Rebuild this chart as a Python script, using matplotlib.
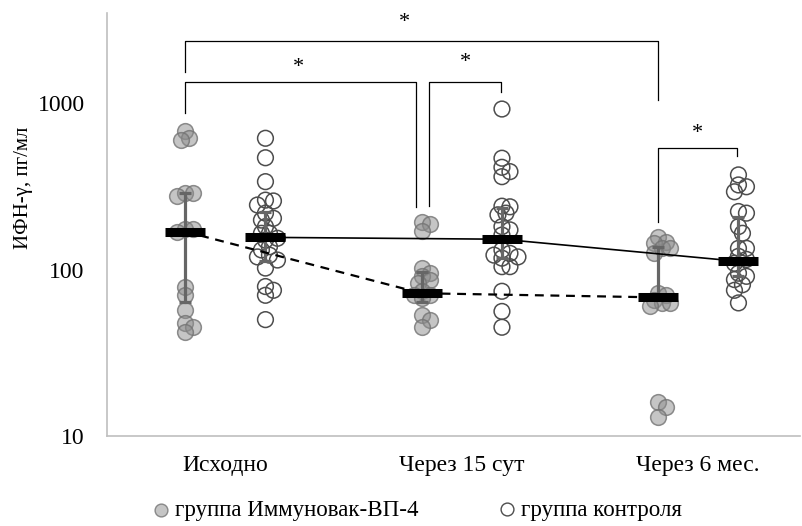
import numpy as np
import matplotlib
matplotlib.use('Agg')
import matplotlib.pyplot as plt

# Данные (пг/мл)
categories = ['Исходно', 'Через 15 сут', 'Через 6 мес.']

immuno_0 = [680, 620, 600, 290, 290, 275, 175, 175, 168, 78, 70, 57, 48, 45, 42]
immuno_1 = [192, 188, 170, 102, 95, 91, 86, 83, 74, 70, 70, 67, 53, 50, 45]
immuno_2 = [157, 147, 144, 134, 134, 125, 72, 70, 66, 63, 63, 60, 16, 15, 13]

control_0 = [614, 469, 337, 261, 258, 244, 218, 203, 198, 181, 165, 165, 154, 150,
             137, 131, 122, 119, 114, 102, 79, 75, 70, 50]
control_1 = [920, 466, 411, 387, 361, 240, 238, 218, 213, 181, 173, 161, 131, 125,
             122, 119, 117, 104, 104, 74, 56, 45]
control_2 = [370, 322, 314, 293, 223, 218, 181, 165, 134, 134, 120, 115, 109, 95,
             91, 87, 81, 75, 63]

immuno_median = [169, 72, 68]
control_median = [156, 152, 112]
immuno_err_low = [64, 64, 68]
immuno_err_high = [289, 97, 136]
control_err_low = [113, 117, 92]
control_err_high = [223, 234, 206]

# скобки значимости: x1, x2, верх, конец левой ножки, конец правой ножки, x звезды, y звезды
brackets = [
    (0.83, 2.831, 2355, 1535, 1042, 1.757, 3060),
    (0.83, 1.808, 1337, 871, 238, 1.31, 1644),
    (1.863, 2.167, 1337, 240, 1170, 2.015, 1762),
    (2.831, 3.165, 537, 194, 483, 2.998, 652),
]

plt.rcParams['font.family'] = ['Liberation Serif', 'DejaVu Serif']

fig = plt.figure(figsize=(8.02, 5.26), dpi=100)
ax = fig.add_axes([107 / 802, 90 / 526, 693 / 802, 423 / 526])
ax.set_yscale('log')
ax.set_ylim(10, 10 ** (1 + 423 / 166.5))
ax.set_xlim(0.5, 0.5 + 693 / 236.5)

x = np.arange(1, 4)
off = 0.17


def swarm(values, xc, diam=7.0, step=4.0):
    # простое распределение точек, круги частично перекрываются
    to_px = ax.transData
    px_per_x = to_px.transform((1, 10))[0] - to_px.transform((0, 10))[0]
    placed = []
    xs = []
    for v in values:
        py = to_px.transform((xc, v))[1]
        k = 0
        while True:
            cand = [0] if k == 0 else [k * step, -k * step]
            ok = None
            for c in cand:
                if all((c - px) ** 2 + (py - yy) ** 2 >= diam ** 2 for px, yy in placed):
                    ok = c
                    break
            if ok is not None:
                break
            k += 1
        placed.append((ok, py))
        xs.append(xc + ok / px_per_x)
    return xs


immuno = [immuno_0, immuno_1, immuno_2]
control = [control_0, control_1, control_2]

for i in range(3):
    xi = swarm(immuno[i], x[i] - off)
    ax.scatter(xi, immuno[i], s=128, facecolor=(0.55, 0.55, 0.55, 0.5),
               edgecolor=(0.45, 0.45, 0.45, 0.8), linewidth=1.1, zorder=2)
    xc = swarm(control[i], x[i] + off)
    ax.scatter(xc, control[i], s=128, facecolor='none',
               edgecolor='#4d4d4d', linewidth=1.1, zorder=2)

# разброс
im = np.array(immuno_median)
cm = np.array(control_median)
ax.errorbar(x - off, im, yerr=[im - np.array(immuno_err_low), np.array(immuno_err_high) - im],
            fmt='none', ecolor='#666666', elinewidth=2.3, capsize=4, capthick=2.3, zorder=3)
ax.errorbar(x + off, cm, yerr=[cm - np.array(control_err_low), np.array(control_err_high) - cm],
            fmt='none', ecolor='#666666', elinewidth=2.3, capsize=4, capthick=2.3, zorder=3)

# медианы и линии
ax.plot(x - off, im, color='black', lw=1.6, ls=(0, (4, 3)), zorder=4)
ax.plot(x + off, cm, color='black', lw=1.2, zorder=4)
ax.plot(x - off, im, ls='none', marker='_', ms=29, mew=6.5, color='black', zorder=5)
ax.plot(x + off, cm, ls='none', marker='_', ms=29, mew=6.5, color='black', zorder=5)

# скобки
for x1, x2, top, yl, yr, sx, sy in brackets:
    ax.plot([x1, x1, x2, x2], [yl, top, top, yr], color='black', lw=0.9, zorder=1)
    ax.text(sx, sy, '*', ha='center', va='center', fontsize=16)

ax.set_xticks(x)
ax.set_xticklabels(categories)
ax.set_yticks([10, 100, 1000])
ax.set_yticklabels(['10', '100', '1000'])
ax.minorticks_off()
ax.tick_params(length=0, labelsize=17)
ax.tick_params(axis='y', pad=16)
ax.tick_params(axis='x', pad=14)
ax.set_ylabel('ИФН-γ, пг/мл', fontsize=15)
ax.yaxis.set_label_coords(-0.107, 0.586)

for s in ['top', 'right']:
    ax.spines[s].set_visible(False)
for s in ['left', 'bottom']:
    ax.spines[s].set_color('#bfbfbf')
    ax.spines[s].set_linewidth(1.2)

h1 = ax.scatter([], [], s=85, facecolor=(0.55, 0.55, 0.55, 0.5),
                edgecolor=(0.45, 0.45, 0.45, 0.8), linewidth=1.0)
h2 = ax.scatter([], [], s=85, facecolor='none', edgecolor='#4d4d4d', linewidth=1.0)
fig.legend([h1, h2], ['группа Иммуновак-ВП-4', 'группа контроля'],
           loc='center', bbox_to_anchor=(0.517, 1 - 510 / 526), ncol=2, frameon=False,
           fontsize=16.5, handletextpad=0.0, columnspacing=3.3, handlelength=1.2)

fig.savefig('out.png', dpi=100)
